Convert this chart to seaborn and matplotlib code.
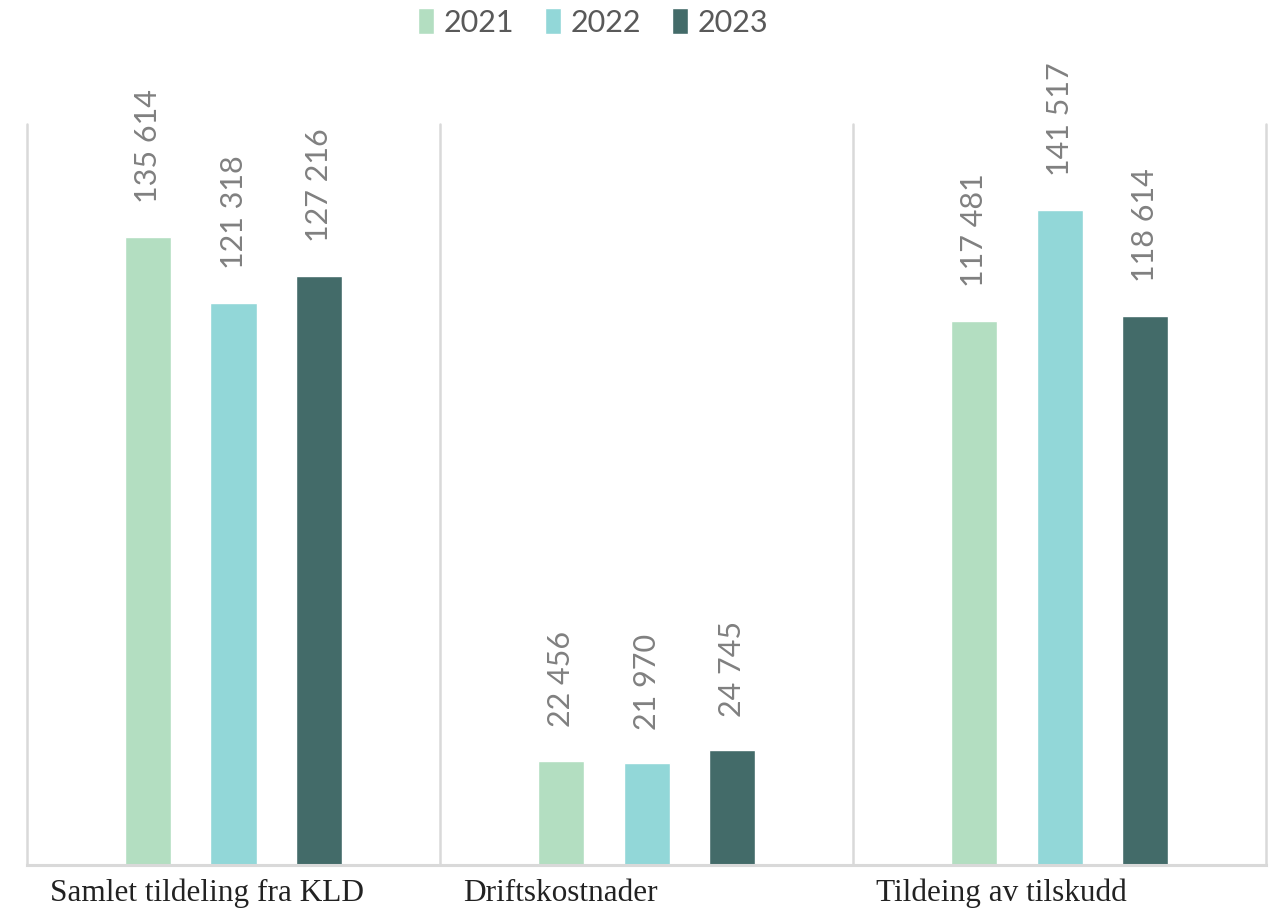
import pandas as pd
import numpy as np
import matplotlib.pyplot as plt
import seaborn as sns

# Data
categories = ['Samlet tildeling fra KLD', 'Driftskostnader', 'Tildeing av tilskudd']
years = ['2021', '2022', '2023']
values_2021 = [135614, 22456, 117481]
values_2022 = [121318, 21970, 141517]
values_2023 = [127216, 24745, 118614]

df = pd.DataFrame({
    'category': categories * 3,
    'year': [y for y in years for _ in categories],
    'value': values_2021 + values_2022 + values_2023,
})

colors = {'2021': '#b3dec1', '2022': '#92d7d8', '2023': '#436b69'}

sns.set_style("white")
plt.rcParams['font.family'] = ['Lato', 'DejaVu Sans']

fig = plt.figure(figsize=(12.75, 9.12), dpi=100)
ax = fig.add_axes([0.0212, 0.0504, 0.9718, 0.8125])

sns.barplot(data=df, x='category', y='value', hue='year', order=categories,
            hue_order=years, palette=colors, width=0.62, gap=0.46,
            saturation=1, ax=ax, legend=True)

# Value labels above bars, rotated
for container in ax.containers:
    labels = [f"{int(v):,}".replace(",", " ") for v in container.datavalues]
    ax.bar_label(container, labels=labels, rotation=90, padding=25,
                 fontsize=22, color='#808080')

ax.set_ylim(0, 160000)
ax.set_xlim(-0.5, 2.5)
ax.set_yticks([])
ax.set_ylabel('')
ax.set_xlabel('')

# Category separators
for xv in [-0.5, 0.5, 1.5, 2.5]:
    ax.axvline(xv, color='#d9d9d9', lw=1.8, zorder=0, clip_on=False)

for s in ['top', 'left', 'right']:
    ax.spines[s].set_visible(False)
ax.spines['bottom'].set_color('#d9d9d9')
ax.spines['bottom'].set_linewidth(2.2)

# Category labels, left-aligned within each group
ax.set_xticks(np.arange(len(categories)) - 0.445)
ax.set_xticklabels(categories, ha='left', fontsize=22.5, color='#222222',
                   family=['Liberation Serif', 'DejaVu Serif'])
ax.tick_params(axis='x', length=0, pad=9)

# Legend on top
handles, labels = ax.get_legend_handles_labels()
ax.get_legend().remove()
fig.legend(handles, labels, loc='upper center', bbox_to_anchor=(0.465, 1.02),
           ncol=3, frameon=False, fontsize=22, handlelength=0.55,
           handleheight=0.9, handletextpad=0.3, columnspacing=1.0,
           labelcolor='#595959')

fig.savefig('out.png', dpi=100)
